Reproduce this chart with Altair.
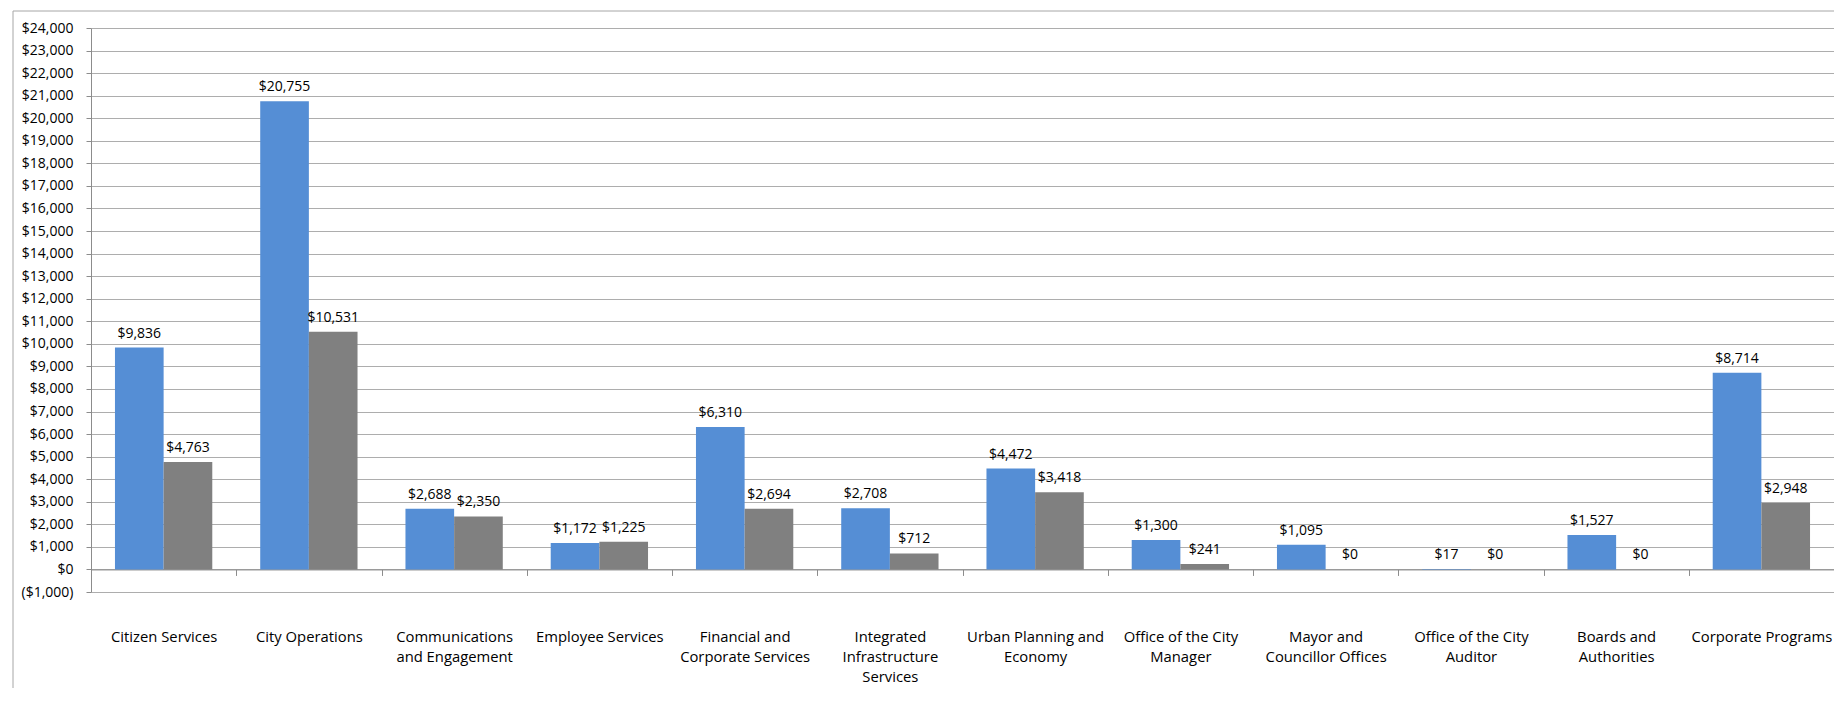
import altair as alt
import pandas as pd

# ---- data ----
categories = [
    "Citizen Services",
    "City Operations",
    "Communications|and Engagement",
    "Employee Services",
    "Financial and|Corporate Services",
    "Integrated|Infrastructure|Services",
    "Urban Planning and|Economy",
    "Office of the City|Manager",
    "Mayor and|Councillor Offices",
    "Office of the City|Auditor",
    "Boards and|Authorities",
    "Corporate Programs",
]
series_names = ["Budget", "Year-to-Date Actuals"]
budget = [9836, 20755, 2688, 1172, 6310, 2708, 4472, 1300, 1095, 17, 1527, 8714]
actuals = [4763, 10531, 2350, 1225, 2694, 712, 3418, 241, 0, 0, 0, 2948]
series_colors = ["#558ED5", "#808080"]
y_ticks = list(range(-1000, 24001, 1000))

rows = []
for c, b, a in zip(categories, budget, actuals):
    rows.append({"category": c, "series": series_names[0], "value": b})
    rows.append({"category": c, "series": series_names[1], "value": a})
df = pd.DataFrame(rows)

W = 1743
H = 564
UNIT = H / 25.0
FONT = "Open Sans"
GRID = "#ADADAD"
AXISC = "#8C8C8C"

x_enc = alt.X(
    "category:N",
    sort=categories,
    scale=alt.Scale(paddingInner=0, paddingOuter=0),
    axis=alt.Axis(
        title=None,
        labelExpr="split(datum.label, '|')",
        labelAngle=0,
        labelPadding=54,
        labelLineHeight=20,
        labelFontSize=14.8,
        labelFont=FONT,
        labelColor="#000000",
        labelOverlap=False,
        labelLimit=400,
        tickBand="extent",
        tickSize=6,
        tickColor=AXISC,
        domainColor=AXISC,
        offset=-UNIT,
        grid=False,
    ),
)
xoff_enc = alt.XOffset(
    "series:N",
    sort=series_names,
    scale=alt.Scale(paddingInner=0, paddingOuter=0.4925),
)
y_enc = alt.Y(
    "value:Q",
    scale=alt.Scale(domain=[-1000, 24000], nice=False, zero=False),
    axis=alt.Axis(
        title=None,
        values=y_ticks,
        labelExpr="datum.value < 0 ? '($' + format(-datum.value, ',') + ')' : '$' + format(datum.value, ',')",
        tickSize=5,
        labelPadding=13,
        labelFontSize=14,
        labelFont=FONT,
        labelColor="#000000",
        gridColor=GRID,
        tickColor=AXISC,
        domainColor=AXISC,
        grid=True,
    ),
)

base = alt.Chart(df)

bars = base.mark_bar().encode(
    x=x_enc,
    xOffset=xoff_enc,
    y=y_enc,
    color=alt.Color(
        "series:N",
        scale=alt.Scale(domain=series_names, range=series_colors),
        legend=None,
    ),
)

labels = base.transform_calculate(
    label="'$' + format(datum.value, ',')"
).mark_text(
    baseline="alphabetic", dy=-10, font=FONT, fontSize=14, color="#000000"
).encode(
    x=x_enc,
    xOffset=xoff_enc,
    y=y_enc,
    text="label:N",
)

frame_data = alt.Data(values=[{"k": 1}])
left_border = alt.Chart(frame_data).mark_rule(color="#A6A6A6", strokeWidth=1).encode(
    x=alt.value(-78), y=alt.value(-17), y2=alt.value(H + 96)
)
top_border = alt.Chart(frame_data).mark_rule(color="#A6A6A6", strokeWidth=1).encode(
    x=alt.value(-78), x2=alt.value(W + 10), y=alt.value(-17)
)

chart = alt.layer(bars, labels, left_border, top_border).properties(
    width=W,
    height=H,
    autosize=alt.AutoSizeParams(type="none"),
    padding={"left": 83, "top": 20, "right": 0, "bottom": 96},
).configure_view(stroke=None)

chart.save("out.html", embed_options={"renderer": "svg", "actions": False})
